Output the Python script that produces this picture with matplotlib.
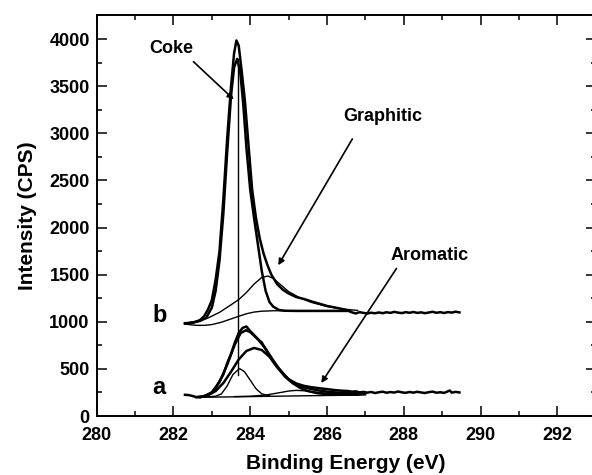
import matplotlib.pyplot as plt
from matplotlib.ticker import MultipleLocator

plt.rcParams['font.family'] = ['Liberation Sans', 'DejaVu Sans']
plt.rcParams['font.weight'] = 'bold'

# --- spectrum b (upper) ---
b_raw_x = [282.30, 282.40, 282.50, 282.60, 282.70, 282.80, 282.90, 283.00, 283.10, 283.20,
           283.30, 283.40, 283.50, 283.58, 283.64, 283.70, 283.78, 283.86, 283.95, 284.05,
           284.15, 284.25, 284.35, 284.45, 284.55, 284.70, 284.85, 285.00, 285.20, 285.40,
           285.60, 285.80, 286.00, 286.20, 286.40, 286.55, 286.65, 286.75, 286.85, 286.95,
           287.05, 287.15, 287.25, 287.35, 287.45, 287.55, 287.65, 287.75, 287.85, 287.95,
           288.05, 288.15, 288.25, 288.35, 288.45, 288.55, 288.65, 288.75, 288.85, 288.95,
           289.05, 289.15, 289.25, 289.35, 289.45]
b_raw_y = [980, 984, 992, 1002, 1020, 1060, 1130, 1230, 1450, 1750,
           2300, 2950, 3500, 3850, 3985, 3930, 3650, 3350, 2900, 2400,
           2100, 1880, 1720, 1600, 1500, 1400, 1340, 1300, 1262, 1242,
           1215, 1192, 1168, 1152, 1135, 1118, 1100, 1088, 1102, 1094,
           1088, 1096, 1090, 1099, 1091, 1101, 1094, 1105, 1097, 1092,
           1102, 1095, 1104, 1094, 1100, 1091, 1098, 1106, 1095, 1102,
           1093, 1103, 1097, 1107, 1099]

b_coke_x = [282.30, 282.50, 282.70, 282.85, 283.00, 283.10, 283.20, 283.30, 283.40, 283.50,
            283.58, 283.66, 283.74, 283.82, 283.90, 284.00, 284.10, 284.20, 284.30, 284.40,
            284.50, 284.60, 284.75, 284.90, 285.20, 286.00, 286.60]
b_coke_y = [985, 990, 1010, 1040, 1150, 1330, 1650, 2150, 2800, 3400,
            3700, 3790, 3650, 3300, 2850, 2400, 2100, 1820, 1540, 1330,
            1210, 1160, 1125, 1117, 1115, 1115, 1115]

b_graph_x = [282.30, 282.60, 282.90, 283.20, 283.50, 283.70, 283.90, 284.10, 284.30, 284.46,
             284.60, 284.80, 285.00, 285.30, 285.60, 286.00, 286.40, 286.80]
b_graph_y = [985, 1005, 1040, 1100, 1180, 1235, 1310, 1400, 1470, 1485,
             1460, 1390, 1320, 1252, 1205, 1162, 1136, 1120]

b_bg_x = [282.30, 282.45, 282.60, 282.80, 283.00, 283.25, 283.50, 283.70, 283.90, 284.10,
          284.30, 284.60, 285.00, 286.00, 286.60]
b_bg_y = [975, 968, 962, 962, 970, 995, 1030, 1058, 1085, 1103,
          1112, 1117, 1118, 1118, 1118]

# --- spectrum a (lower) ---
a_raw_x = [282.30, 282.40, 282.50, 282.60, 282.70, 282.80, 282.90, 283.00, 283.10, 283.20,
           283.30, 283.40, 283.50, 283.60, 283.70, 283.80, 283.90, 284.00, 284.10, 284.20,
           284.30, 284.40, 284.50, 284.60, 284.70, 284.80, 284.90, 285.00, 285.20, 285.40,
           285.60, 285.80, 286.00, 286.20, 286.40, 286.55, 286.65, 286.75, 286.85, 286.95,
           287.05, 287.15, 287.25, 287.35, 287.45, 287.55, 287.65, 287.75, 287.85, 287.95,
           288.05, 288.15, 288.25, 288.35, 288.45, 288.55, 288.65, 288.75, 288.85, 288.95,
           289.05, 289.15, 289.20, 289.25, 289.35, 289.45]
a_raw_y = [225, 222, 212, 200, 200, 208, 225, 250, 300, 370,
           440, 560, 660, 780, 880, 935, 950, 900, 860, 815,
           780, 710, 640, 575, 520, 480, 430, 390, 345, 320,
           305, 295, 285, 275, 268, 265, 258, 262, 250, 256,
           248, 255, 244, 252, 258, 247, 254, 249, 260, 251,
           246, 255, 248, 257, 250, 244, 253, 259, 247, 252,
           245, 262, 270, 248, 256, 250]

a_fit_x = [282.60, 282.80, 283.00, 283.20, 283.40, 283.60, 283.75, 283.89, 284.00, 284.20,
           284.40, 284.60, 284.80, 285.00, 285.20, 285.40, 285.60, 285.80, 286.00, 286.30,
           286.60, 287.00]
a_fit_y = [200, 212, 250, 360, 545, 760, 880, 910, 890, 815,
           715, 590, 475, 390, 335, 305, 285, 270, 258, 248,
           243, 240]

a_narrow_x = [282.90, 283.10, 283.25, 283.40, 283.55, 283.72, 283.85, 284.00, 284.15, 284.30, 284.50]
a_narrow_y = [204, 210, 235, 320, 440, 504, 470, 380, 290, 235, 216]

a_broad_x = [282.70, 282.90, 283.10, 283.30, 283.50, 283.70, 283.90, 284.10, 284.30, 284.50,
             284.70, 284.90, 285.10, 285.30, 285.50, 285.75, 286.00, 286.30, 286.80]
a_broad_y = [200, 220, 265, 350, 470, 600, 690, 722, 700, 630,
             520, 420, 350, 298, 265, 242, 232, 228, 226]

a_arom_x = [283.60, 284.00, 284.40, 284.80, 285.00, 285.20, 285.40, 285.60, 285.90, 286.20, 286.50, 286.90]
a_arom_y = [206, 210, 222, 250, 265, 272, 268, 258, 245, 236, 232, 230]

a_bg_x = [282.60, 283.50, 284.50, 285.50, 286.50, 287.00]
a_bg_y = [198, 203, 209, 215, 220, 223]

# reference line through the coke peak
ref_x = 283.67
ref_y = [440, 3790]

fig = plt.figure(figsize=(5.92, 4.75), dpi=100)
ax = fig.add_axes([0.1633, 0.1242, 0.843, 0.8442])

lw_thick = 1.8
lw_thin = 1.0
ax.plot(b_raw_x, b_raw_y, color='black', lw=lw_thick)
ax.plot(b_coke_x, b_coke_y, color='black', lw=lw_thick)
ax.plot(b_graph_x, b_graph_y, color='black', lw=lw_thin)
ax.plot(b_bg_x, b_bg_y, color='black', lw=lw_thin)

ax.plot(a_raw_x, a_raw_y, color='black', lw=lw_thick)
ax.plot(a_fit_x, a_fit_y, color='black', lw=lw_thick)
ax.plot(a_narrow_x, a_narrow_y, color='black', lw=lw_thin)
ax.plot(a_broad_x, a_broad_y, color='black', lw=lw_thick)
ax.plot(a_arom_x, a_arom_y, color='black', lw=lw_thin)
ax.plot(a_bg_x, a_bg_y, color='black', lw=lw_thin)

ax.plot([ref_x, ref_x], ref_y, color='black', lw=lw_thin)

# annotations
arrow = dict(arrowstyle='-|>', color='black', lw=1.2, mutation_scale=9, shrinkA=0, shrinkB=0)
ax.text(281.95, 3900, 'Coke', fontsize=13, ha='center', va='center')
ax.annotate('', xy=(283.57, 3360), xytext=(282.52, 3760), arrowprops=arrow)
ax.text(287.45, 3180, 'Graphitic', fontsize=13, ha='center', va='center')
ax.annotate('', xy=(284.73, 1600), xytext=(286.66, 2940), arrowprops=arrow)
ax.text(288.67, 1700, 'Aromatic', fontsize=13, ha='center', va='center')
ax.annotate('', xy=(285.85, 350), xytext=(287.81, 1566), arrowprops=arrow)
ax.text(281.63, 1070, 'b', fontsize=17, ha='center', va='center')
ax.text(281.63, 305, 'a', fontsize=17, ha='center', va='center')

ax.set_xlim(280, 293)
ax.set_ylim(0, 4255)
ax.xaxis.set_major_locator(MultipleLocator(2))
ax.xaxis.set_minor_locator(MultipleLocator(1))
ax.yaxis.set_major_locator(MultipleLocator(500))
ax.yaxis.set_minor_locator(MultipleLocator(250))
ax.tick_params(which='both', direction='in', top=True, right=True, width=1.1)
ax.tick_params(which='major', length=7)
ax.tick_params(which='minor', length=3.5)
ax.tick_params(axis='x', pad=8, labelsize=13)
ax.tick_params(axis='y', pad=5, labelsize=13)
for s in ax.spines.values():
    s.set_linewidth(1.4)

ax.set_xlabel('Binding Energy (eV)', fontsize=15, fontweight='bold', labelpad=7)
ax.set_ylabel('Intensity (CPS)', fontsize=15, fontweight='bold', labelpad=9)

plt.savefig('out.png', dpi=100)
plt.close()
